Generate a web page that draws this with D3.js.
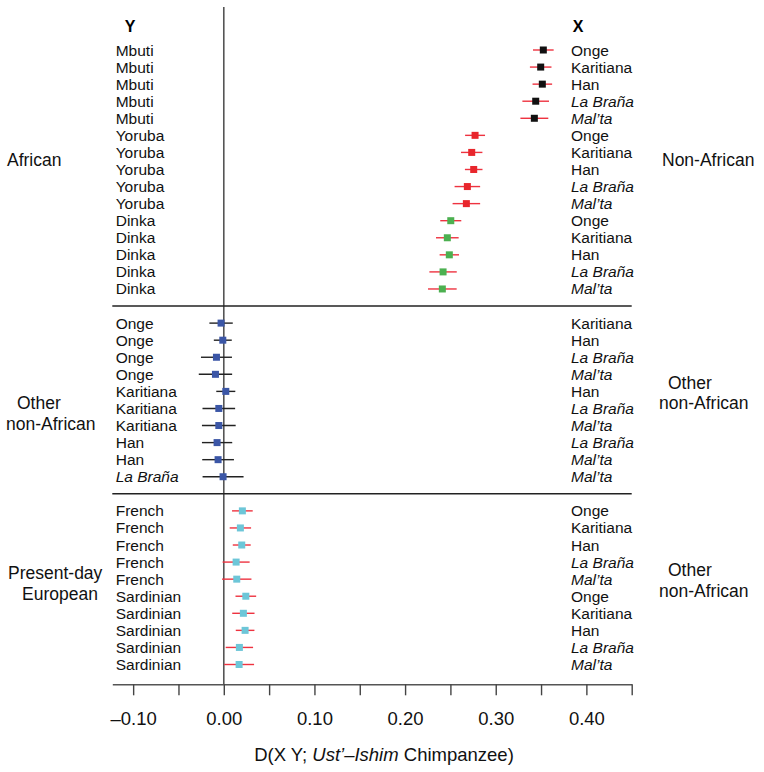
<!DOCTYPE html>
<html>
<head>
<meta charset="utf-8">
<script src="https://cdn.jsdelivr.net/npm/d3@7/dist/d3.min.js"></script>
<style>
  html, body { margin: 0; padding: 0; background: #fff; }
  svg { display: block; font-family: "Liberation Sans", Arial, Helvetica, sans-serif; }
</style>
</head>
<body>
<svg id="chart" width="764" height="772"></svg>
<script>
// ---------------- DATA ----------------
const yPops = [
  "Mbuti","Mbuti","Mbuti","Mbuti","Mbuti",
  "Yoruba","Yoruba","Yoruba","Yoruba","Yoruba",
  "Dinka","Dinka","Dinka","Dinka","Dinka",
  "Onge","Onge","Onge","Onge","Karitiana","Karitiana","Karitiana","Han","Han","La Braña",
  "French","French","French","French","French",
  "Sardinian","Sardinian","Sardinian","Sardinian","Sardinian"
];
const xPops = [
  "Onge","Karitiana","Han","La Braña","Mal’ta",
  "Onge","Karitiana","Han","La Braña","Mal’ta",
  "Onge","Karitiana","Han","La Braña","Mal’ta",
  "Karitiana","Han","La Braña","Mal’ta","Han","La Braña","Mal’ta","La Braña","Mal’ta","Mal’ta",
  "Onge","Karitiana","Han","La Braña","Mal’ta",
  "Onge","Karitiana","Han","La Braña","Mal’ta"
];
const dValues = [
  0.3525, 0.3496, 0.3514, 0.3441, 0.3426,
  0.2772, 0.2735, 0.2757, 0.2687, 0.2676,
  0.2504, 0.2466, 0.2488, 0.2419, 0.2411,
  -0.0030, -0.0011, -0.0081, -0.0092, 0.0022, -0.0055, -0.0055, -0.0074, -0.0063, -0.0008,
  0.0205, 0.0183, 0.0198, 0.0136, 0.0143,
  0.0243, 0.0216, 0.0235, 0.0172, 0.0169
];
const dErrors = [
  0.0114, 0.0119, 0.0108, 0.0147, 0.0154,
  0.0110, 0.0118, 0.0097, 0.0141, 0.0152,
  0.0116, 0.0125, 0.0107, 0.0151, 0.0158,
  0.0129, 0.0099, 0.0171, 0.0184, 0.0105, 0.0180, 0.0186, 0.0167, 0.0175, 0.0226,
  0.0114, 0.0118, 0.0099, 0.0149, 0.0162,
  0.0114, 0.0123, 0.0103, 0.0151, 0.0165
];
// panel index of each row
const panelOf = [
  0,0,0,0,0, 0,0,0,0,0, 0,0,0,0,0,
  1,1,1,1,1,1,1,1,1,1,
  2,2,2,2,2, 2,2,2,2,2
];
const leftGroupLabels  = [["African"], ["Other", "non-African"], ["Present-day", "European"]];
const rightGroupLabels = [["Non-African"], ["Other", "non-African"], ["Other", "non-African"]];
const tickValues = [-0.10, -0.05, 0.00, 0.05, 0.10, 0.15, 0.20, 0.25, 0.30, 0.35, 0.40, 0.45];
const tickLabels = ["–0.10", "", "0.00", "", "0.10", "", "0.20", "", "0.30", "", "0.40", ""];
const italicPops = ["La Braña", "Mal’ta"];

// ---------------- STYLE / LAYOUT ----------------
const RED = "#ee3340";
function markerColor(i) {
  const p = panelOf[i];
  if (p === 1) return "#3b56a6";
  if (p === 2) return "#6dc6d8";
  if (yPops[i] === "Mbuti") return "#111111";
  if (yPops[i] === "Yoruba") return "#e8262c";
  return "#4cb050";
}
function barColor(i) { return panelOf[i] === 1 ? "#222222" : RED; }

const svg = d3.select("#chart");
const x = d3.scaleLinear().domain([-0.123, 0.45]).range([112.3, 631.7]);
// slot index: one empty slot between panels (where the separator sits)
const slotOf = dValues.map((d, i) => i + panelOf[i]);
const y = d3.scaleLinear().domain([0, 36]).range([50, 664.5]);
const axisY = 684.3;

// vertical zero line
svg.append("line")
  .attr("x1", x(0)).attr("x2", x(0))
  .attr("y1", 7).attr("y2", axisY)
  .attr("stroke", "#555").attr("stroke-width", 1.6);

// separators
[15, 26].forEach(s => {
  svg.append("line")
    .attr("x1", x(-0.123)).attr("x2", x(0.45))
    .attr("y1", y(s)).attr("y2", y(s))
    .attr("stroke", "#222").attr("stroke-width", 1.4);
});

// axis
const axis = d3.axisBottom(x)
  .tickValues(tickValues)
  .tickFormat((d, i) => tickLabels[i])
  .tickSize(11).tickSizeOuter(0).tickPadding(17);
const gA = svg.append("g").attr("transform", `translate(0,${axisY})`).call(axis);
gA.select(".domain").attr("stroke", "#555").attr("stroke-width", 1.6);
gA.selectAll(".tick line").attr("stroke", "#444").attr("stroke-width", 1.4);
gA.selectAll(".tick text").attr("fill", "#111").style("font-size", "18.5px")
  .style("font-family", '"Liberation Sans", Arial, sans-serif');

// axis title
const title = svg.append("text")
  .attr("x", 384).attr("y", 754).attr("text-anchor", "middle")
  .attr("dominant-baseline", "central")
  .style("font-size", "18.5px").attr("fill", "#111");
title.append("tspan").text("D(X Y; ");
title.append("tspan").style("font-style", "italic").text("Ust’–Ishim");
title.append("tspan").text(" Chimpanzee)");

// error bars
svg.append("g").selectAll("line").data(dValues).join("line")
  .attr("x1", (d, i) => x(d - dErrors[i]))
  .attr("x2", (d, i) => x(d + dErrors[i]))
  .attr("y1", (d, i) => y(slotOf[i]))
  .attr("y2", (d, i) => y(slotOf[i]))
  .attr("stroke", (d, i) => barColor(i))
  .attr("stroke-width", 1.4);

// markers
const sq = 7;
svg.append("g").selectAll("rect").data(dValues).join("rect")
  .attr("x", d => x(d) - sq / 2)
  .attr("y", (d, i) => y(slotOf[i]) - sq / 2)
  .attr("width", sq).attr("height", sq)
  .attr("fill", (d, i) => markerColor(i));

// row labels
function popLabel(sel, xpos, accessor) {
  sel.selectAll(null).data(dValues).join("text")
    .attr("x", xpos)
    .attr("y", (d, i) => y(slotOf[i]))
    .attr("dominant-baseline", "central")
    .style("font-size", "15.5px")
    .style("font-style", (d, i) => italicPops.includes(accessor(i)) ? "italic" : "normal")
    .attr("fill", "#111")
    .text((d, i) => accessor(i));
}
popLabel(svg.append("g"), 115.7, i => yPops[i]);
popLabel(svg.append("g"), 571, i => xPops[i]);

// headers
svg.append("text").attr("x", 130).attr("y", 26).attr("text-anchor", "middle")
  .attr("dominant-baseline", "central").style("font-size", "16px").style("font-weight", "bold")
  .text("Y");
svg.append("text").attr("x", 578).attr("y", 26).attr("text-anchor", "middle")
  .attr("dominant-baseline", "central").style("font-size", "16px").style("font-weight", "bold")
  .text("X");

// group labels (layout positions)
const leftPos = [
  [[7, 160]],
  [[17, 403], [6, 424]],
  [[8, 573], [22, 594]]
];
const rightPos = [
  [[662, 160]],
  [[668, 383], [659, 403]],
  [[668, 570], [659, 591]]
];
function groupLabels(labels, pos) {
  labels.forEach((lines, g) => {
    lines.forEach((t, k) => {
      svg.append("text")
        .attr("x", pos[g][k][0]).attr("y", pos[g][k][1])
        .attr("dominant-baseline", "central")
        .style("font-size", "17.5px").attr("fill", "#111")
        .text(t);
    });
  });
}
groupLabels(leftGroupLabels, leftPos);
groupLabels(rightGroupLabels, rightPos);
</script>
</body>
</html>
